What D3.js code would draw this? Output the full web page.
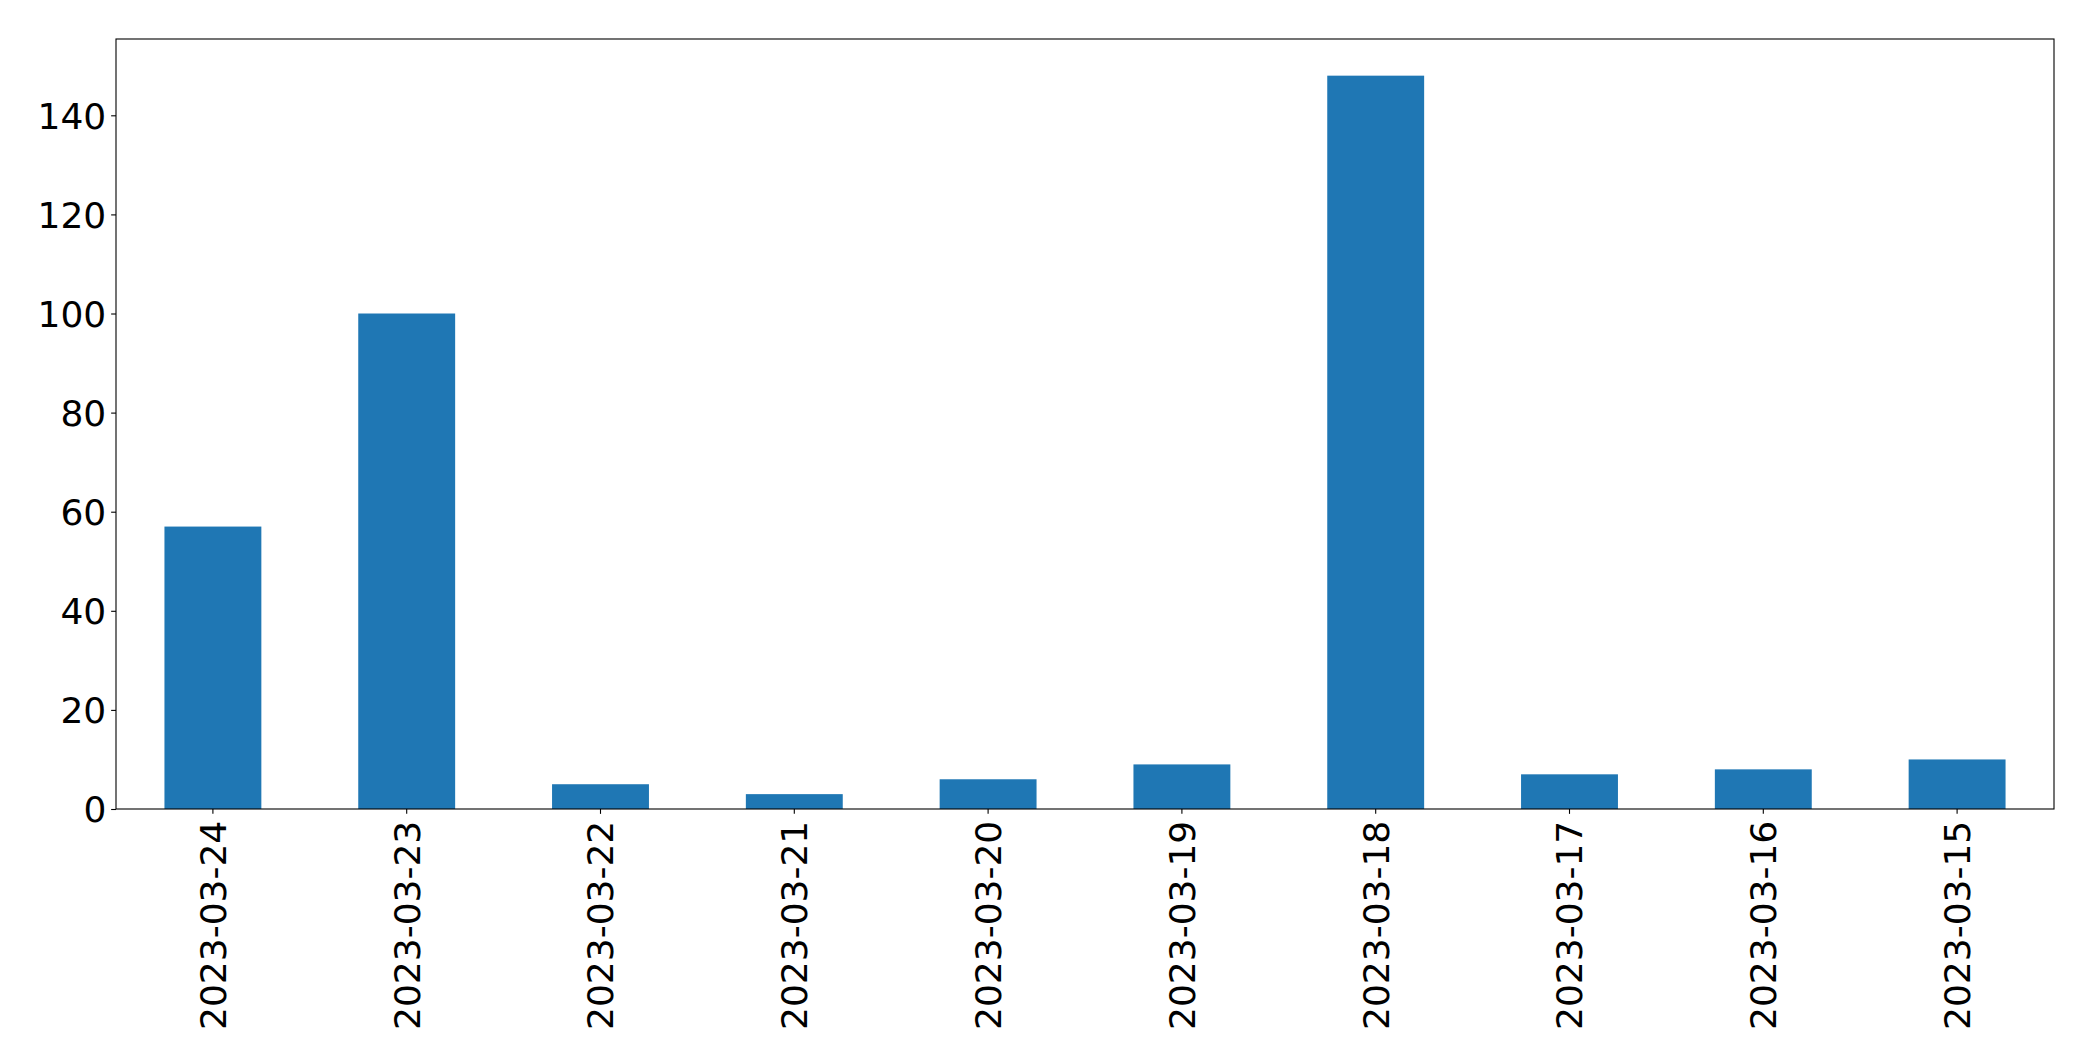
<!DOCTYPE html>
<html>
<head>
<meta charset="utf-8">
<script src="https://cdn.jsdelivr.net/npm/d3@7"></script>
<style>
html, body { margin: 0; padding: 0; background: #fff; }
svg { display: block; }
text { font-family: "DejaVu Sans", sans-serif; fill: #000; }
</style>
</head>
<body>
<svg id="chart" width="2093" height="1061"></svg>
<script>
const categories = ["2023-03-24","2023-03-23","2023-03-22","2023-03-21","2023-03-20","2023-03-19","2023-03-18","2023-03-17","2023-03-16","2023-03-15"];
const values = [57, 100, 5, 3, 6, 9, 148, 7, 8, 10];
const yTicks = [0, 20, 40, 60, 80, 100, 120, 140];

const W = 2093, H = 1061;
const m = { left: 116, top: 39, right: 2054, bottom: 809 };
const fontSize = 36;
const tickLen = 4.86, pad = 4.86;

const svg = d3.select("#chart");

const x = d3.scaleBand().domain(categories).range([m.left, m.right]).paddingInner(0.5).paddingOuter(0.25);
const yMax = d3.max(values) * 1.05;
const y = d3.scaleLinear().domain([0, yMax]).range([m.bottom, m.top]);

svg.append("g").selectAll("rect").data(values).join("rect")
  .attr("x", (d, i) => x(categories[i]))
  .attr("width", x.bandwidth())
  .attr("y", d => y(d))
  .attr("height", d => y(0) - y(d))
  .attr("fill", "#1f77b4");

const yAxis = d3.axisLeft(y).tickValues(yTicks).tickSize(tickLen).tickPadding(pad).tickFormat(d3.format("d"));
const gy = svg.append("g").attr("transform", `translate(${m.left},0)`).call(yAxis);
gy.select(".domain").remove();
gy.selectAll(".tick line").attr("stroke", "#000").attr("stroke-width", 1.1);
gy.selectAll(".tick text").style("font-size", fontSize + "px").attr("fill", "#000").attr("dy", "0.36em");

const xAxis = d3.axisBottom(x).tickSize(tickLen).tickPadding(pad);
const gx = svg.append("g").attr("transform", `translate(0,${m.bottom})`).call(xAxis);
gx.select(".domain").remove();
gx.selectAll(".tick line").attr("stroke", "#000").attr("stroke-width", 1.1);
gx.selectAll(".tick text")
  .style("font-size", fontSize + "px")
  .attr("fill", "#000")
  .attr("text-anchor", "end")
  .attr("transform", `rotate(-90)`)
  .attr("x", -(tickLen + pad + 2))
  .attr("y", 0)
  .attr("dy", "0.36em");

svg.append("rect")
  .attr("x", m.left).attr("y", m.top)
  .attr("width", m.right - m.left).attr("height", m.bottom - m.top)
  .attr("fill", "none").attr("stroke", "#000").attr("stroke-width", 1.1);
</script>
</body>
</html>
